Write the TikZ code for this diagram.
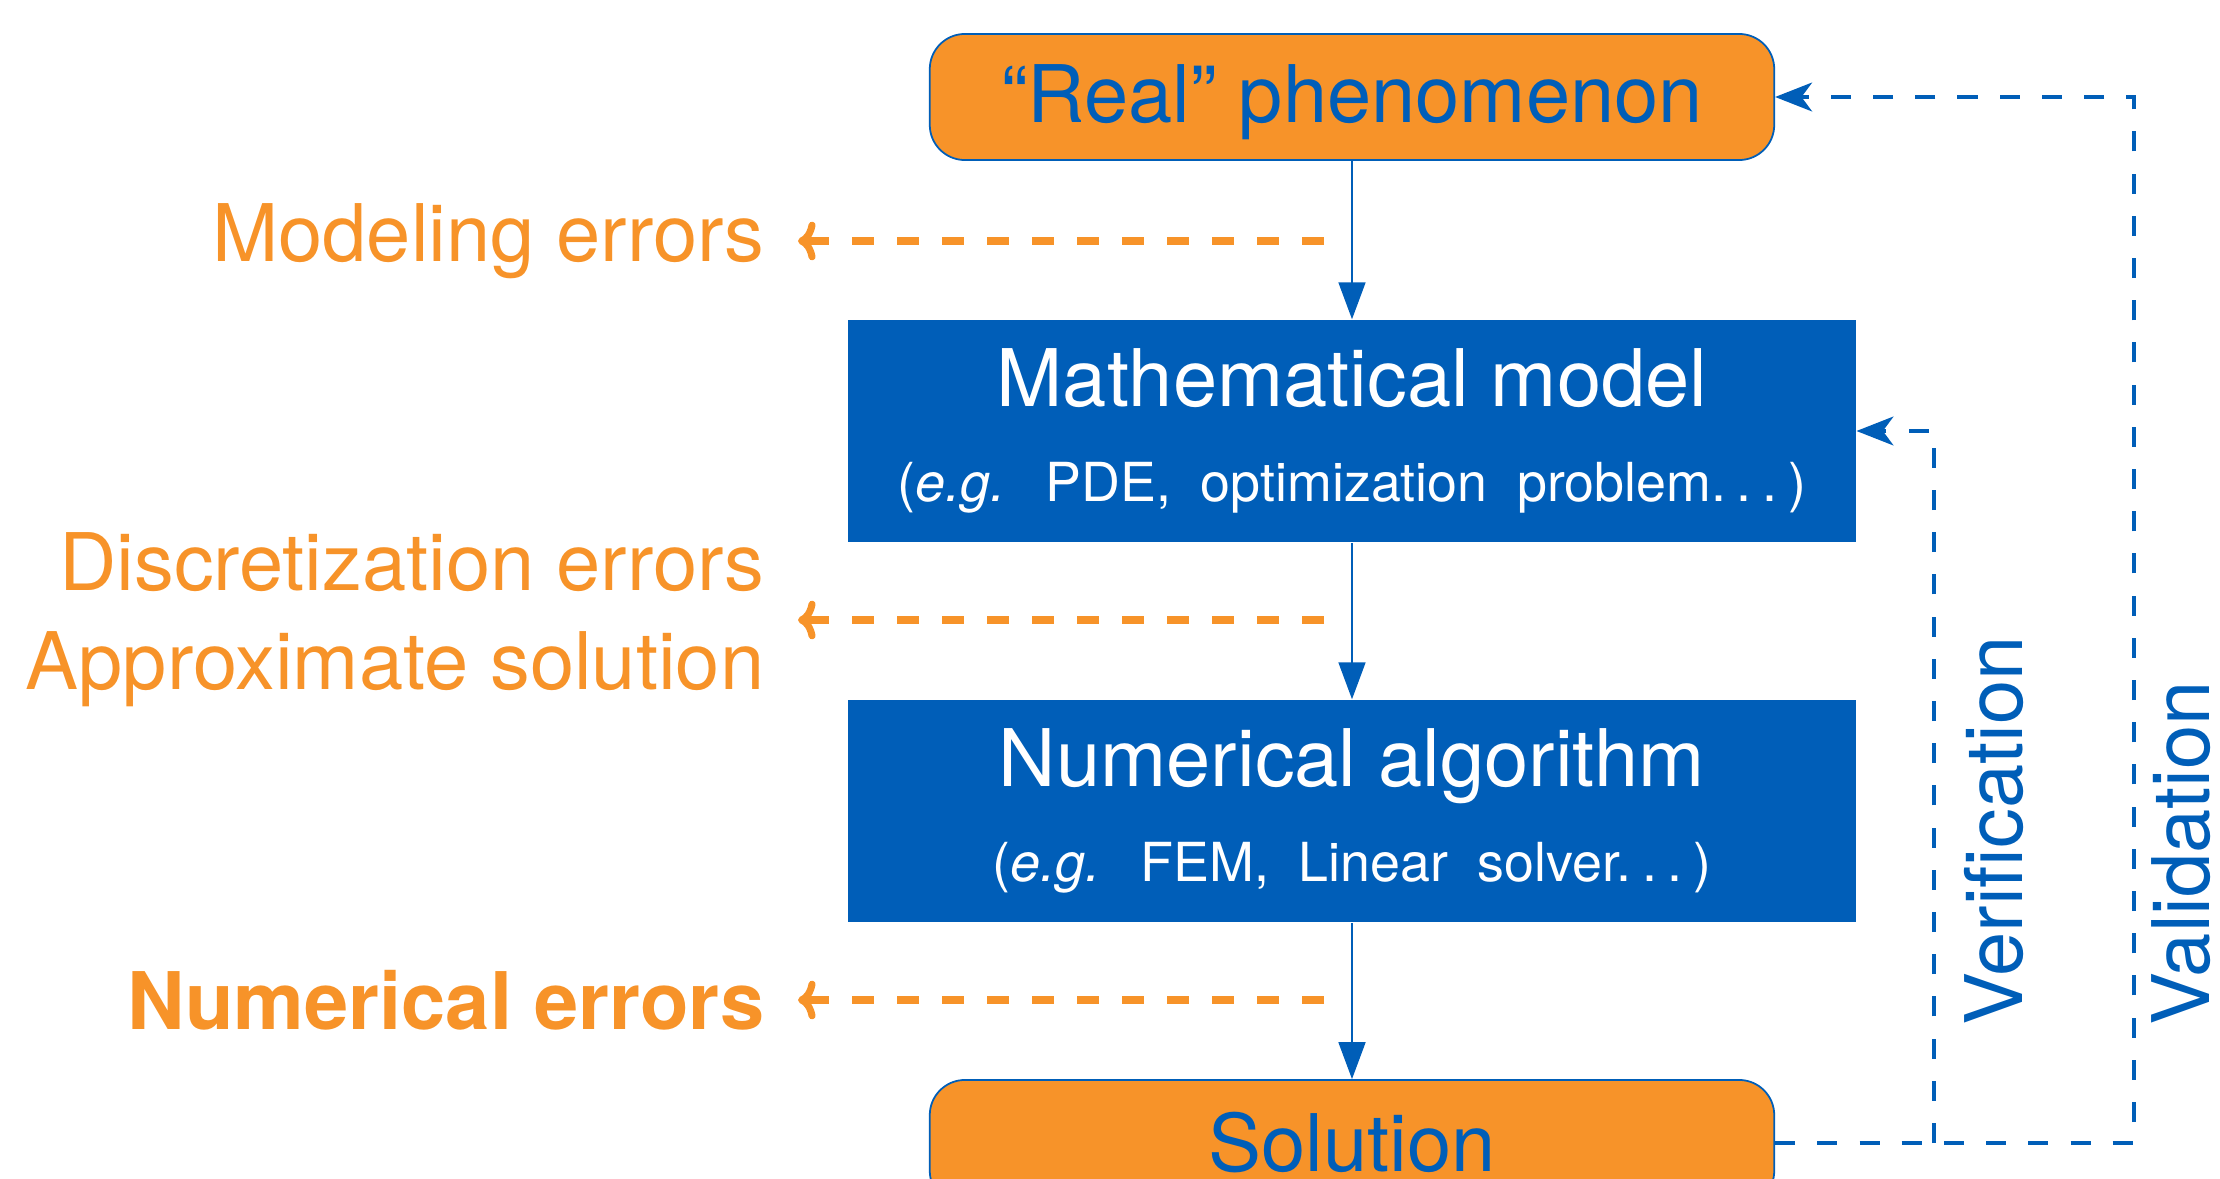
\documentclass[tikz,border=0pt]{standalone}
\usepackage{fontspec}
\setmainfont{TeX Gyre Heros}
\usetikzlibrary{arrows.meta}
\definecolor{ublue}{RGB}{0,94,184}
\definecolor{uorange}{RGB}{247,147,41}
\newcommand{\detailline}[1]{{\fontsize{15.3}{27}\selectfont\spaceskip=0.55em #1}}
\newcommand{\spdots}{.\kern0.2em.\kern0.2em.\kern0.2em}

\begin{document}
\begin{tikzpicture}[x=0.01cm,y=-0.01cm]
\tikzstyle endstyle=[draw=ublue, line width=0.5pt, fill=uorange, rounded corners=10pt, minimum width=8.44cm, minimum height=1.26cm, text=ublue, font=\fontsize{22.6}{27}\selectfont];
\tikzstyle stagestyle=[fill=ublue, minimum width=10.07cm, minimum height=2.22cm, text=white, align=center, font=\fontsize{22.6}{27}\selectfont];
\tikzstyle errstyle=[text=uorange, inner sep=0pt, inner xsep=0.33cm, align=right, anchor=east, font=\fontsize{22.6}{28.2}\selectfont];
\tikzstyle sidestyle=[text=ublue, rotate=90, anchor=base west, inner sep=0pt, font=\fontsize{22.6}{27}\selectfont];
\tikzstyle flowstyle=[ublue, line width=0.4pt, -{Triangle[length=10.5pt,width=7.7pt]}];
\tikzstyle errarrow=[uorange, line width=2pt, dash pattern=on 6.3pt off 6.5pt, -{Computer Modern Rightarrow[round,length=5pt,width=11pt]}];
\tikzstyle checkstyle=[ublue, line width=1pt, dash pattern=on 5.7pt off 6.3pt, -{Stealth[length=10.5pt,width=8.2pt,inset=3pt]}];
\useasboundingbox (0,0) rectangle (2220,1179);
\clip (0,0) rectangle (2220,1179);

% the chain
\node[endstyle, text depth=2pt] (real) at (1352,97) {``Real'' phenomenon};
\node[stagestyle] (model) at (1352,431) {Mathematical model\\\detailline{(\textit{e.g.}\hspace{0.75em}PDE, optimization problem\spdots)}};
\node[stagestyle] (algo) at (1352,811) {Numerical algorithm\\\detailline{(\textit{e.g.}\hspace{0.75em}FEM, Linear solver\spdots)}};
\node[endstyle] (sol) at (1352,1143) {Solution};
\draw[flowstyle] (real) -- (model);
\draw[flowstyle] (model) -- (algo);
\draw[flowstyle] (algo) -- (sol);

% errors on the left
\node[errstyle] (modeling) at (798,241) {Modeling errors};
\node[errstyle] (discrete) at (798,620) {Discretization errors\\Approximate solution};
\node[errstyle, font=\fontsize{22.6}{28.2}\selectfont\bfseries] (numerr) at (798,1000) {Numerical errors};
\coordinate (e1) at (1324,241);
\coordinate (e2) at (1324,620);
\coordinate (e3) at (1324,1000);
\draw[errarrow] (e1) -- (modeling.east);
\draw[errarrow] (e2) -- (discrete.east);
\draw[errarrow] (e3) -- (numerr.east);

% loops on the right
\coordinate (ver) at (1934,431);
\coordinate (val) at (2134,97);
\draw[checkstyle] (sol.east) -| (val) -- (real.east);
\draw[checkstyle] (sol.east -| ver) -- (ver) -- (model.east);
\node[sidestyle] (verif) at (2022,1026) {Verification};
\node[sidestyle] (valid) at (2209,1026) {Validation};
\end{tikzpicture}
\end{document}
